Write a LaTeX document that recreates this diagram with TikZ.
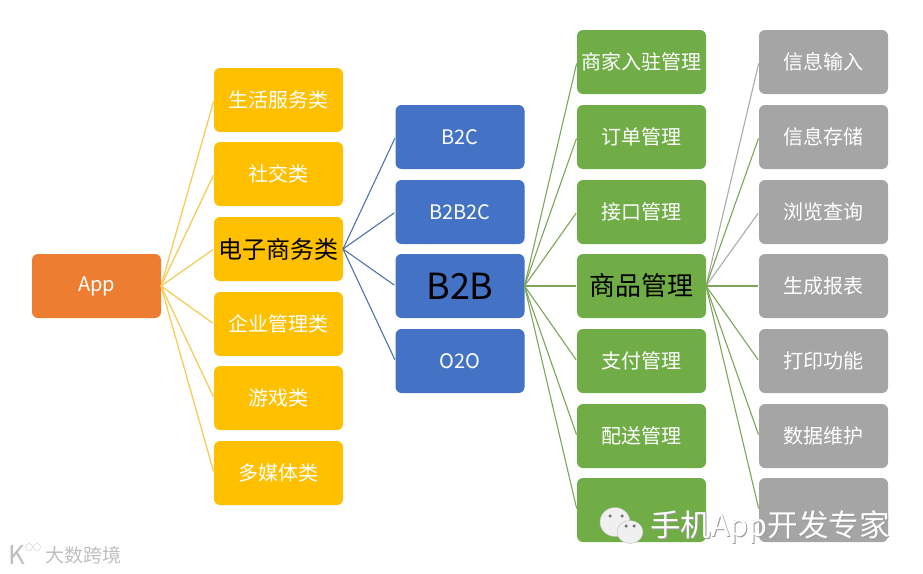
\documentclass[tikz,border=0pt]{standalone}
\usepackage{fontspec}
\setmainfont{Noto Sans CJK SC}
\usetikzlibrary{shapes.geometric}
\usepackage{xcolor}
\definecolor{appfill}{RGB}{237,125,49}
\definecolor{catfill}{RGB}{255,192,0}
\definecolor{modefill}{RGB}{68,114,196}
\definecolor{modfill}{RGB}{112,173,71}
\definecolor{funcfill}{RGB}{165,165,165}
\definecolor{catline}{RGB}{245,205,90}
\definecolor{modeline}{RGB}{80,115,170}
\definecolor{modline}{RGB}{125,165,90}
\definecolor{funcline}{RGB}{170,170,170}
\tikzset{
  box/.style={rounded corners=6pt, minimum width=129pt, minimum height=64pt,
    inner sep=0pt, outer sep=0pt, text=white, font=\fontsize{20}{20}\selectfont},
  appbox/.style={box, fill=appfill},
  catbox/.style={box, fill=catfill},
  modebox/.style={box, fill=modefill},
  modbox/.style={box, fill=modfill},
  funcbox/.style={box, fill=funcfill},
  catlink/.style={catline, line width=1.3pt, shorten >=1.5pt},
  modelink/.style={modeline, line width=1.1pt, shorten >=1.5pt},
  modlink/.style={modline, line width=1.1pt, shorten >=1.5pt},
  funclink/.style={funcline, line width=1.1pt, shorten >=1.5pt},
  markfont/.style={font=\fontsize{30.5}{30.5}\selectfont, inner sep=0pt},
  bubble/.style={draw=black!25, fill=black!6, ellipse, inner sep=0pt},
  eye/.style={circle, fill=black!55, minimum size=3.5pt, inner sep=0pt},
  logodot/.style={circle, draw=black!20, minimum size=7pt, inner sep=0pt}
}
\begin{document}
\begin{tikzpicture}[x=1pt,y=-1pt]
\useasboundingbox (0,0) rectangle (923,573);

%% -- App ----------------------------------------------------------------
\node[appbox] (app) at (96.5,286) {App};

%% -- categories ---------------------------------------------------------
\node[catbox] (cat1) at (278.5,100) {生活服务类};
\node[catbox] (cat2) at (278.5,174) {社交类};
\node[catbox,text=black,font=\fontsize{24}{24}\selectfont] (cat3) at (278.5,249) {电子商务类};
\node[catbox] (cat4) at (278.5,324) {企业管理类};
\node[catbox] (cat5) at (278.5,398) {游戏类};
\node[catbox] (cat6) at (278.5,473) {多媒体类};

%% -- business modes -----------------------------------------------------
\node[modebox] (b2c) at (460,137) {B2C};
\node[modebox] (b2b2c) at (460,212) {B2B2C};
\node[modebox,text=black,font=\fontsize{36}{36}\selectfont] (b2b) at (460,286) {B2B};
\node[modebox] (o2o) at (460,361) {O2O};

%% -- modules ------------------------------------------------------------
\node[modbox] (mod1) at (641.5,62) {商家入驻管理};
\node[modbox] (mod2) at (641.5,137) {订单管理};
\node[modbox] (mod3) at (641.5,212) {接口管理};
\node[modbox,text=black,font=\fontsize{26}{26}\selectfont] (mod4) at (641.5,286) {商品管理};
\node[modbox] (mod5) at (641.5,361) {支付管理};
\node[modbox] (mod6) at (641.5,436) {配送管理};
\node[modbox] (mod7) at (641.5,510) {};

%% -- functions ----------------------------------------------------------
\node[funcbox] (func1) at (823.5,62) {信息输入};
\node[funcbox] (func2) at (823.5,137) {信息存储};
\node[funcbox] (func3) at (823.5,212) {浏览查询};
\node[funcbox] (func4) at (823.5,286) {生成报表};
\node[funcbox] (func5) at (823.5,361) {打印功能};
\node[funcbox] (func6) at (823.5,436) {数据维护};
\node[funcbox] (func7) at (823.5,510) {};

%% -- links --------------------------------------------------------------
\foreach \n in {1,...,6}
  \draw[catlink] (app.east) -- (cat\n.west);
\foreach \n in {b2c,b2b2c,b2b,o2o}
  \draw[modelink] (cat3.east) -- (\n.west);
\foreach \n in {1,...,7}
  \draw[modlink] (b2b.east) -- (mod\n.west);
\foreach \n in {1,3}
  \draw[funclink] (mod4.east) -- (func\n.west);
\foreach \n in {2,4,5,6,7}
  \draw[modlink] (mod4.east) -- (func\n.west);

%% -- watermarks ---------------------------------------------------------
\node[markfont,text=black!40,anchor=west] (markshadow) at (651,528) {手机App开发专家};
\node[markfont,text=white,anchor=west] (mark) at (650,527) {手机App开发专家};
\node[bubble,minimum width=30pt,minimum height=29pt] (bubbleback) at (615,522) {};
\node[eye] (eyea) at (610,516) {};
\node[eye] (eyeb) at (622,516) {};
\node[bubble,minimum width=26pt,minimum height=23pt] (bubblefront) at (630,532) {};
\node[eye] (eyec) at (626,526) {};
\node[eye] (eyed) at (634,526) {};
\node[text=black!25,anchor=west,inner sep=0pt,font=\fontsize{19}{19}\selectfont] (brand) at (45,555) {大数跨境};
\node[text=black!25,anchor=west,inner sep=0pt,font=\fontsize{26}{26}\selectfont] (brandlogo) at (8,555) {K};
\node[logodot] (logoa) at (29,547) {};
\node[logodot] (logob) at (37,547) {};
\end{tikzpicture}
\end{document}
